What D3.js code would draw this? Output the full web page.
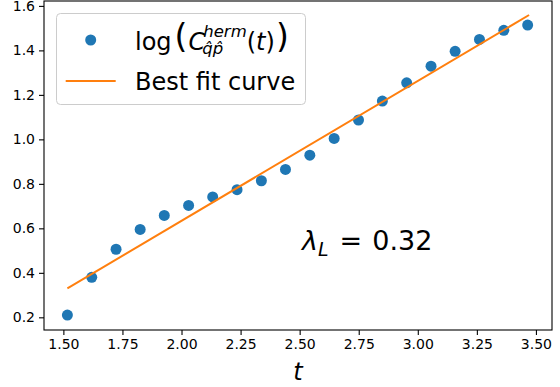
<!DOCTYPE html>
<html>
<head>
<meta charset="utf-8">
<script src="https://cdn.jsdelivr.net/npm/d3@7"></script>
<style>
	body { margin: 0; background: #fff; }
	text { font-family: "DejaVu Sans", sans-serif; fill: #000; }
</style>
</head>
<body>
<svg id="chart" width="560" height="387"></svg>
<script>
'use strict';

// * data
var tValues = [1.517, 1.620, 1.723, 1.825, 1.927, 2.030, 2.132, 2.235, 2.338, 2.440,
               2.543, 2.646, 2.749, 2.850, 2.953, 3.056, 3.158, 3.261, 3.364, 3.465];
var logC = [0.210, 0.380, 0.506, 0.595, 0.658, 0.703, 0.741, 0.774, 0.814, 0.865,
            0.929, 1.004, 1.087, 1.172, 1.254, 1.329, 1.396, 1.449, 1.490, 1.514];

// best fit line, two ends
var fitT = [1.517, 3.471];
var fitY = [0.330, 1.559];

var xTicks = [1.50, 1.75, 2.00, 2.25, 2.50, 2.75, 3.00, 3.25, 3.50];
var yTicks = [0.2, 0.4, 0.6, 0.8, 1.0, 1.2, 1.4, 1.6];
var lambdaL = '0.32';

var blue = '#1f77b4', orange = '#ff7f0e';

var plot = { left: 44, right: 552, top: 1, bottom: 330 };

var svg = d3.select('#chart');

var x = d3.scaleLinear().domain([1.418, 3.568]).range([plot.left, plot.right]);
var y = d3.scaleLinear().domain([0.143, 1.622]).range([plot.bottom, plot.top]);

// - axes
var xAxis = d3.axisBottom(x).tickValues(xTicks).tickFormat(d3.format('.2f')).tickSize(5).tickPadding(4);
var yAxis = d3.axisLeft(y).tickValues(yTicks).tickFormat(d3.format('.1f')).tickSize(5).tickPadding(4);

var gx = svg.append('g').attr('transform', `translate(0,${plot.bottom})`).call(xAxis);
var gy = svg.append('g').attr('transform', `translate(${plot.left},0)`).call(yAxis);

for (let g of [gx, gy])
{
	g.select('.domain').remove();
	g.selectAll('line').attr('stroke', '#000').attr('stroke-width', 1.1);
	g.selectAll('text').attr('font-family', '"DejaVu Sans", sans-serif').attr('font-size', 14).attr('fill', '#000');
}

// - points and fit line
svg.append('g').selectAll('circle')
	.data(tValues)
	.join('circle')
		.attr('cx', (t) => x(t))
		.attr('cy', (t, i) => y(logC[i]))
		.attr('r', 5.5)
		.attr('fill', blue);

var line = d3.line().x((d) => x(d[0])).y((d) => y(d[1]));
svg.append('path')
	.datum(d3.zip(fitT, fitY))
	.attr('d', line)
	.attr('fill', 'none')
	.attr('stroke', orange)
	.attr('stroke-width', 2);

// - frame
svg.append('rect')
	.attr('x', plot.left).attr('y', plot.top)
	.attr('width', plot.right - plot.left).attr('height', plot.bottom - plot.top)
	.attr('fill', 'none').attr('stroke', '#000').attr('stroke-width', 1.1);

/**
 * Lay out a row of text pieces left to right, a bit like mathtext does.
 * Pieces with `stack` share the x of the previous piece (super/subscript pair).
 */
function mathRow(parent, x0, pieces)
{
	let cx = x0, lastX = x0, lastW = 0;
	for (let p of pieces)
	{
		let px = p.stack ? lastX : cx;
		let t = parent.append('text')
			.attr('x', px + (p.dx || 0)).attr('y', p.y)
			.attr('font-size', p.size)
			.attr('font-style', p.it ? 'italic' : 'normal')
			.text(p.s);
		let w = t.node().getComputedTextLength() + (p.dx || 0);
		if (p.stack)
			w = Math.max(w, lastW);
		lastX = px;
		lastW = w;
		cx = px + w + (p.gap || 0);
	}
	return cx;
}

// - legend
var leg = svg.append('g');
leg.append('rect')
	.attr('x', 56.5).attr('y', 13.5).attr('width', 249).attr('height', 91).attr('rx', 4)
	.attr('fill', '#fff').attr('fill-opacity', 0.8).attr('stroke', '#ccc');
leg.append('circle').attr('cx', 90.7).attr('cy', 40).attr('r', 5.5).attr('fill', blue);
leg.append('line').attr('x1', 65.7).attr('x2', 115.7).attr('y1', 81).attr('y2', 81)
	.attr('stroke', orange).attr('stroke-width', 2);

// log(C^herm_{q̂p̂}(t))
mathRow(leg, 135, [
	{ s: 'log', y: 50, size: 24, gap: 3 },
	{ s: '(', y: 48, size: 33, gap: 1 },
	{ s: 'C', y: 50, size: 24, it: true },
	{ s: 'herm', y: 37, size: 16.5, it: true, dx: -2 },
	{ s: 'q\u0302p\u0302', y: 54, size: 16.5, it: true, stack: true, dx: -3 },
	{ s: '(', y: 50, size: 24 },
	{ s: 't', y: 50, size: 24, it: true },
	{ s: ')', y: 50, size: 24, gap: 1 },
	{ s: ')', y: 48, size: 33 }
]);

leg.append('text').attr('x', 135).attr('y', 90).attr('font-size', 24).text('Best fit curve');

// - annotation
var ann = svg.append('g');
mathRow(ann, 302, [
	{ s: '\u03bb', y: 250, size: 27, it: true },
	{ s: 'L', y: 256, size: 19, it: true, gap: 11 },
	{ s: '=', y: 250, size: 27, gap: 10 },
	{ s: lambdaL, y: 250, size: 27 }
]);

// - x label
svg.append('text').attr('x', (plot.left + plot.right) / 2).attr('y', 380)
	.attr('text-anchor', 'middle').attr('font-size', 24).attr('font-style', 'italic').text('t');
</script>
</body>
</html>
